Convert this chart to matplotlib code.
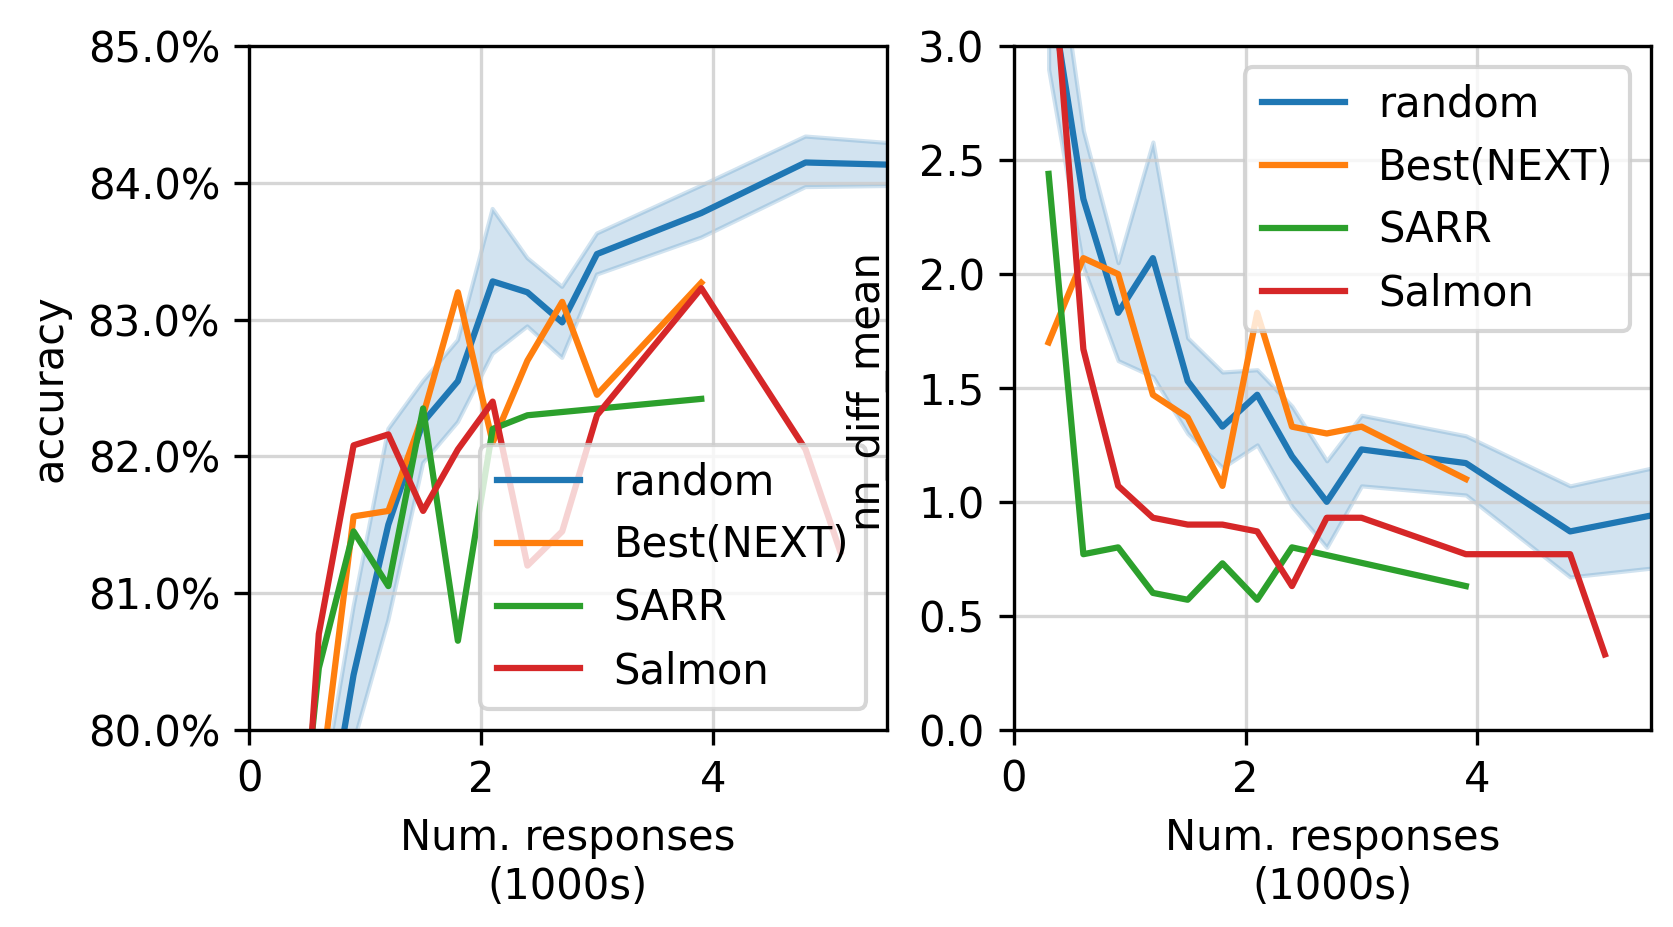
import numpy as np
import matplotlib.pyplot as plt
from matplotlib.ticker import PercentFormatter

# x positions (1000s of responses)
x_rand = [0.3, 0.6, 0.9, 1.2, 1.5, 1.8, 2.1, 2.4, 2.7, 3.0, 3.9, 4.8, 5.7]
x_best = [0.3, 0.6, 0.9, 1.2, 1.5, 1.8, 2.1, 2.4, 2.7, 3.0, 3.9]
x_sarr = [0.3, 0.6, 0.9, 1.2, 1.5, 1.8, 2.1, 2.4, 3.9]
x_salm = [0.3, 0.6, 0.9, 1.2, 1.5, 1.8, 2.1, 2.4, 2.7, 3.0, 3.9, 4.8, 5.1]

# accuracy (%)
acc_rand = [77.0, 78.9, 80.4, 81.5, 82.25, 82.55, 83.28, 83.2, 82.98, 83.48, 83.78, 84.15, 84.13]
acc_rand_lo = [76.5, 78.4, 79.9, 80.8, 81.95, 82.25, 82.75, 82.95, 82.72, 83.33, 83.6, 83.97, 83.98]
acc_rand_hi = [77.5, 79.4, 80.9, 82.2, 82.55, 82.85, 83.81, 83.45, 83.24, 83.63, 83.98, 84.34, 84.28]
acc_best = [77.5, 79.5, 81.56, 81.6, 82.3, 83.2, 82.1, 82.7, 83.13, 82.45, 83.27]
acc_sarr = [78.0, 80.45, 81.45, 81.05, 82.35, 80.65, 82.2, 82.3, 82.42]
acc_salm = [77.0, 80.7, 82.08, 82.16, 81.6, 82.05, 82.4, 81.2, 81.45, 82.3, 83.23, 82.05, 81.3]

# nn_diff_mean
nn_rand = [3.3, 2.33, 1.83, 2.07, 1.53, 1.33, 1.47, 1.2, 1.0, 1.23, 1.17, 0.87, 0.96]
nn_rand_lo = [2.9, 2.03, 1.62, 1.55, 1.30, 1.15, 1.25, 0.98, 0.80, 1.07, 1.03, 0.67, 0.72]
nn_rand_hi = [3.7, 2.63, 2.05, 2.58, 1.72, 1.57, 1.58, 1.42, 1.18, 1.38, 1.29, 1.07, 1.17]
nn_best = [1.7, 2.07, 2.0, 1.47, 1.37, 1.07, 1.83, 1.33, 1.3, 1.33, 1.1]
nn_sarr = [2.44, 0.77, 0.8, 0.6, 0.57, 0.73, 0.57, 0.8, 0.63]
nn_salm = [3.6, 1.67, 1.07, 0.93, 0.9, 0.9, 0.87, 0.63, 0.93, 0.93, 0.77, 0.77, 0.33]

labels = ["random", "Best(NEXT)", "SARR", "Salmon"]

plt.rcParams['font.size'] = 10
fig = plt.figure(figsize=(1673 / 300, 927 / 300), dpi=300)
ax1 = fig.add_axes([0.149, 0.213, 0.381, 0.737])
ax2 = fig.add_axes([0.606, 0.213, 0.381, 0.737])


def draw(ax, yr, lo, hi, yb, ys, yl):
    ax.fill_between(x_rand, lo, hi, color="C0", alpha=0.2, linewidth=1)
    ax.plot(x_rand, yr, color="C0", label=labels[0])
    ax.plot(x_best, yb, color="C1", label=labels[1])
    ax.plot(x_sarr, ys, color="C2", label=labels[2])
    ax.plot(x_salm, yl, color="C3", label=labels[3])
    ax.set_xlim(0, 5.5)
    ax.set_xticks([0, 2, 4])
    ax.grid(True, alpha=0.8, color="#cccccc")
    ax.set_xlabel("Num. responses\n(1000s)")


draw(ax1, acc_rand, acc_rand_lo, acc_rand_hi, acc_best, acc_sarr, acc_salm)
ax1.set_ylim(80, 85)
ax1.yaxis.set_major_formatter(PercentFormatter(decimals=1))
ax1.set_ylabel("accuracy")
ax1.legend(loc="lower right")

draw(ax2, nn_rand, nn_rand_lo, nn_rand_hi, nn_best, nn_sarr, nn_salm)
ax2.set_ylim(0, 3.0)
ax2.set_ylabel("nn_diff_mean")
ax2.yaxis.set_label_coords(-0.2, 0.5)
ax2.legend(loc="upper right")

fig.savefig("out.png", dpi=300)
